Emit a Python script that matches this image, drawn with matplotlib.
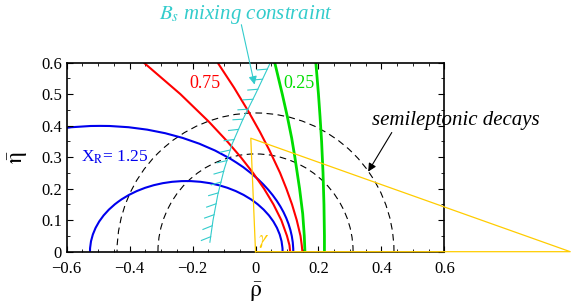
import matplotlib
matplotlib.use("Agg")
import matplotlib.pyplot as plt
import matplotlib.patheffects as pe
from matplotlib.patches import Arc
from matplotlib.ticker import MultipleLocator

plt.rcParams['font.family'] = ['Liberation Serif', 'DejaVu Serif']
plt.rcParams['mathtext.fontset'] = 'stix'

# ---------------- DATA ----------------
# dashed semileptonic circles around the origin
semi_radii = [0.31, 0.44]

# blue X_R curves: half-ellipses (centre on the rho axis, half width, height)
blue_centres = [-0.494, -0.220]
blue_half_widths = [0.614, 0.306]
blue_heights = [0.399, 0.224]

# red curves (0.75)
red_left_x = [-0.353, -0.239, -0.149, -0.090, -0.047, -0.008, 0.027, 0.057, 0.082, 0.100, 0.108, 0.110]
red_left_y = [0.598, 0.500, 0.413, 0.350, 0.300, 0.250, 0.200, 0.150, 0.100, 0.050, 0.020, 0.0]
red_right_x = [-0.118, -0.068, -0.022, 0.014, 0.045, 0.078, 0.098, 0.116, 0.131, 0.143, 0.147, 0.149]
red_right_y = [0.596, 0.520, 0.444, 0.380, 0.320, 0.250, 0.200, 0.150, 0.100, 0.050, 0.020, 0.0]

# green curves (0.25)
green_left_x = [0.062, 0.085, 0.101, 0.115, 0.125, 0.140, 0.150, 0.155, 0.157]
green_left_y = [0.596, 0.500, 0.429, 0.360, 0.300, 0.200, 0.120, 0.050, 0.0]
green_right_x = [0.192, 0.200, 0.205, 0.210, 0.2145, 0.2175, 0.219, 0.219]
green_right_y = [0.596, 0.500, 0.429, 0.350, 0.250, 0.150, 0.050, 0.0]

# B_s mixing constraint (hatched)
bs_x = [0.045, 0.0, -0.040, -0.075, -0.100, -0.120, -0.135, -0.145]
bs_y = [0.595, 0.500, 0.420, 0.340, 0.260, 0.180, 0.100, 0.030]

# unitarity triangle
tri_x = [0.0, 1.0, -0.015, 0.0]
tri_y = [0.0, 0.0, 0.36, 0.0]

# ---------------- FIGURE ----------------
fig = plt.figure(figsize=(5.72, 3.05), dpi=100)
ax = fig.add_axes([0.1166, 0.1748, 0.6602, 0.6202])
ax.set_xlim(-0.6, 0.6)
ax.set_ylim(0, 0.6)

for r in semi_radii:
    ax.add_patch(Arc((0, 0), 2 * r, 2 * r, theta1=0, theta2=180, color="black",
                     lw=0.8, ls=(0, (6, 4))))

ax.plot(tri_x, tri_y, color="#ffcc00", lw=0.9, clip_on=False, zorder=3)

for c, a, b in zip(blue_centres, blue_half_widths, blue_heights):
    ax.add_patch(Arc((c, 0), 2 * a, 2 * b, theta1=0, theta2=180, color="#0000ee", lw=1.5))

ax.plot(red_left_x, red_left_y, color="#ff0000", lw=1.5)
ax.plot(red_right_x, red_right_y, color="#ff0000", lw=1.5)
ax.plot(green_left_x, green_left_y, color="#00dd00", lw=2)
ax.plot(green_right_x, green_right_y, color="#00dd00", lw=2)
ax.plot(bs_x, bs_y, color="#33cccc", lw=0.8,
        path_effects=[pe.withTickedStroke(spacing=8, angle=-60, length=0.9, linewidth=0.8)])

# labels inside
ax.text(-0.16, 0.532, "0.75", color="#ff0000", fontsize=13, ha="center", va="center")
ax.text(0.139, 0.532, "0.25", color="#00dd00", fontsize=13, ha="center", va="center")
ax.text(-0.555, 0.30, r"X$_\mathrm{R}$= 1.25", color="#0000ee", fontsize=12.5, ha="left", va="center")
ax.text(0.027, 0.036, r"$\gamma$", color="#ffcc00", fontsize=15, ha="center", va="center")

ax.text(-0.03, 0.753, r"$B_s$ mixing constraint", color="#33cccc", fontsize=15,
        style="italic", ha="center", va="center")
ax.annotate("", xy=(-0.003, 0.53), xytext=(-0.045, 0.72), annotation_clip=False,
            arrowprops=dict(arrowstyle="-|>", color="#33cccc", lw=0.8,
                            shrinkA=0, shrinkB=0, mutation_scale=12))
ax.text(0.635, 0.415, "semileptonic decays", color="black", fontsize=15,
        style="italic", ha="center", va="center")
ax.annotate("", xy=(0.358, 0.254), xytext=(0.433, 0.378), annotation_clip=False,
            arrowprops=dict(arrowstyle="-|>", color="black", lw=0.8,
                            shrinkA=0, shrinkB=0, mutation_scale=12))

ax.xaxis.set_major_locator(MultipleLocator(0.2))
ax.xaxis.set_minor_locator(MultipleLocator(0.05))
ax.yaxis.set_major_locator(MultipleLocator(0.1))
ax.yaxis.set_minor_locator(MultipleLocator(0.05))
ax.xaxis.set_major_formatter(plt.FuncFormatter(lambda v, p: "0" if abs(v) < 1e-9 else f"{v:.1f}".replace("-", "\u2212")))
ax.yaxis.set_major_formatter(plt.FuncFormatter(lambda v, p: "0" if abs(v) < 1e-9 else f"{v:.1f}"))
ax.tick_params(which="both", direction="in", top=True, right=True, labelsize=12)
ax.tick_params(which="major", length=4)
ax.tick_params(which="minor", length=2)
ax.tick_params(axis="x", pad=7)
for s in ax.spines.values():
    s.set_linewidth(1.2)

ax.set_xlabel(r"$\bar{\mathrm{\rho}}$", fontsize=17, labelpad=2)
ax.set_ylabel(r"$\bar{\mathrm{\eta}}$", fontsize=17, labelpad=8)

fig.savefig("out.png", dpi=100)
